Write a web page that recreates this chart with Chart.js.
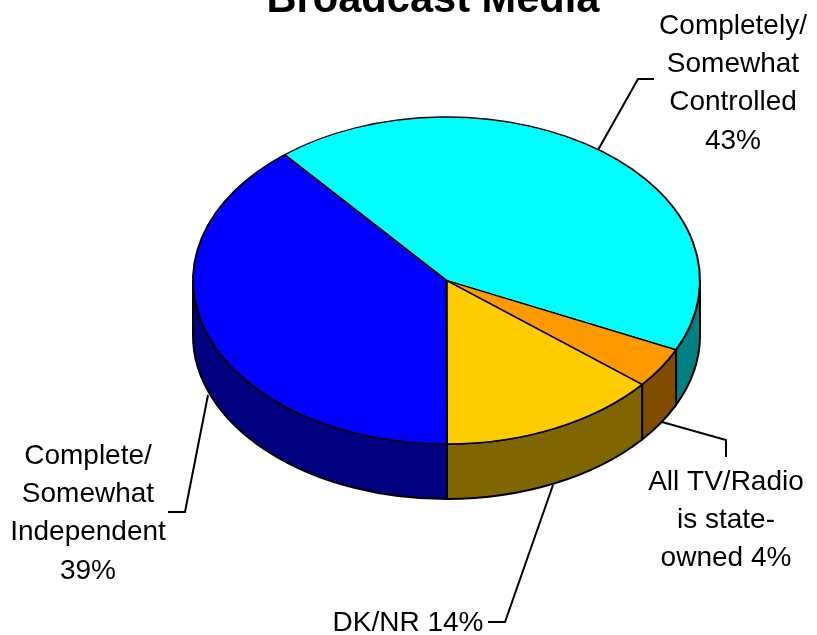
<!DOCTYPE html>
<html>
<head>
<meta charset="utf-8">
<title>Broadcast Media</title>
<script src="https://cdn.jsdelivr.net/npm/chart.js@4"></script>
<style>
  body { margin: 0; background: #fff; }
  canvas { display: block; }
</style>
</head>
<body>
<canvas id="pieChart" width="817" height="635"></canvas>
<script>
const chartTitle = "Broadcast Media";
const categories = ["Completely/ Somewhat Controlled", "All TV/Radio is state-owned", "DK/NR", "Complete/ Somewhat Independent"];
const values = [43, 4, 14, 39];
const topColors = ["#00FFFF", "#FF9900", "#FFCC00", "#0000FF"];
const sideColors = ["#008080", "#804C00", "#806600", "#000080"];

// label text, line by line
const labelLines = [
    ["Completely/", "Somewhat", "Controlled", "43%"],
    ["All TV/Radio", "is state-", "owned 4%"],
    ["DK/NR 14%"],
    ["Complete/", "Somewhat", "Independent", "39%"]
];
const labelCenters = [733, 726, 408, 88];
const labelBaselines = [34, 490, 631, 464];
const lineHeight = 38.2;
const leaderLines = [
    [[598, 150], [638, 79], [654, 79]],
    [[662, 422], [726, 440], [726, 457]],
    [[553, 485], [505, 622], [488, 622]],
    [[208, 395], [185, 512], [168, 512]]
];

const squash = 0.645; // tilt of the pie
const depth = 55;     // height of the side wall

// draws the wall under the pie, then squashes the circle into an ellipse
const tiltPlugin = {
    id: "tilt",
    beforeDatasetsDraw(chart) {
        const ctx = chart.ctx;
        const arcs = chart.getDatasetMeta(0).data;
        const cx = arcs[0].x, cy = arcs[0].y, r = arcs[0].outerRadius;
        const ry = r * squash;

        ctx.save();
        ctx.lineWidth = 2;
        ctx.strokeStyle = "#000";
        arcs.forEach((arc, i) => {
            // only the front half of the wall can be seen
            const ranges = [[arc.startAngle, arc.endAngle], [arc.startAngle - 2 * Math.PI, arc.endAngle - 2 * Math.PI]];
            ranges.forEach(([s, e]) => {
                const a0 = Math.max(s, 0), a1 = Math.min(e, Math.PI);
                if (a1 <= a0) return;
                ctx.beginPath();
                ctx.ellipse(cx, cy, r, ry, 0, a0, a1);
                ctx.ellipse(cx, cy + depth, r, ry, 0, a1, a0, true);
                ctx.closePath();
                ctx.fillStyle = sideColors[i];
                ctx.fill();
                ctx.stroke();
            });
        });
        ctx.restore();

        ctx.save();
        ctx.translate(0, cy);
        ctx.scale(1, squash);
        ctx.translate(0, -cy);
    },
    afterDatasetsDraw(chart) {
        chart.ctx.restore();
    }
};

const labelPlugin = {
    id: "labels",
    afterDraw(chart) {
        const ctx = chart.ctx;
        ctx.save();
        ctx.strokeStyle = "#000";
        ctx.lineWidth = 2;
        leaderLines.forEach(pts => {
            ctx.beginPath();
            pts.forEach((p, i) => i ? ctx.lineTo(p[0], p[1]) : ctx.moveTo(p[0], p[1]));
            ctx.stroke();
        });

        ctx.fillStyle = "#000";
        ctx.textAlign = "center";
        ctx.textBaseline = "alphabetic";
        ctx.font = "28px 'Liberation Sans'";
        labelLines.forEach((lines, i) => {
            lines.forEach((line, j) => {
                ctx.fillText(line, labelCenters[i], labelBaselines[i] + j * lineHeight);
            });
        });

        ctx.font = "bold 41.6px 'Liberation Sans'";
        ctx.fillText(chartTitle, 433, 12);
        ctx.restore();
    }
};

new Chart(document.getElementById("pieChart"), {
    type: "pie",
    data: {
        labels: categories,
        datasets: [{
            data: values,
            backgroundColor: topColors,
            borderColor: "#000",
            borderWidth: 2,
            hoverOffset: 0
        }]
    },
    options: {
        responsive: false,
        animation: false,
        events: [],
        rotation: -39.7,
        layout: { padding: { left: 192, right: 116, top: 26, bottom: 100 } },
        plugins: {
            legend: { display: false },
            tooltip: { enabled: false },
            title: { display: false }
        }
    },
    plugins: [tiltPlugin, labelPlugin]
});
</script>
</body>
</html>
